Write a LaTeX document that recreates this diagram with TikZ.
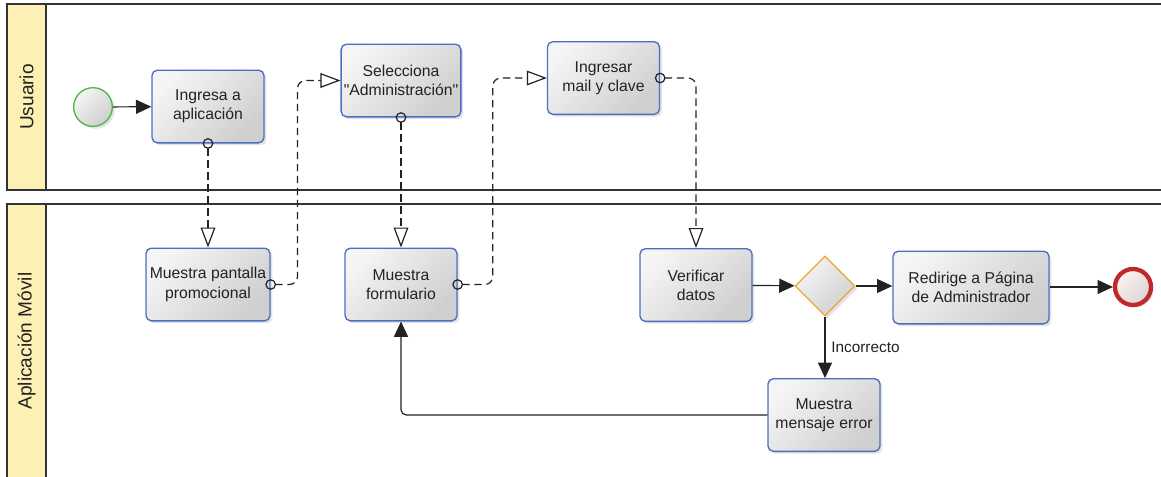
\documentclass[tikz,border=0pt]{standalone}
\usepackage{fontspec}
\setmainfont{Liberation Sans}[Ligatures=TeXOff]
\usetikzlibrary{arrows.meta,shapes.geometric,shadows}

\definecolor{ink}{HTML}{222222}
\definecolor{taskblue}{HTML}{4A6FC0}
\definecolor{laneyellow}{HTML}{FDF0B5}
\definecolor{gwyorange}{HTML}{EFA52E}
\definecolor{startgreen}{HTML}{4DB848}
\definecolor{endred}{HTML}{C0282A}
\definecolor{laneline}{HTML}{333333}

\begin{document}
\begin{tikzpicture}[x=0.75pt,y=-0.75pt,
  shadowed/.style={drop shadow={opacity=0.22, shadow xshift=1.8pt, shadow yshift=-1.8pt}},
  greyfill/.style={top color=white!96!black, bottom color=black!19, shading angle=45},
  task/.style={shadowed, greyfill, draw=taskblue, line width=1pt, rounded corners=4pt,
    minimum width=84pt, minimum height=54.5pt, align=center, inner sep=2pt,
    font=\fontsize{11.8}{14.4}\selectfont, text=ink},
  gateway/.style={shadowed, greyfill, diamond, draw=gwyorange, line width=1pt,
    minimum width=45pt, minimum height=45pt, inner sep=0pt},
  startev/.style={shadowed, greyfill, circle, draw=startgreen, line width=1pt,
    minimum size=29pt, inner sep=0pt},
  endev/.style={shadowed, top color=white!94!red, bottom color=red!12!black!16, shading angle=45,
    circle, draw=endred, line width=3.2pt, minimum size=27pt, inner sep=0pt},
  lanehead/.style={rotate=90, font=\fontsize{14.3}{16}\selectfont, text=ink},
  lane/.style={draw=laneline, line width=1.5pt},
  flow/.style={draw=ink, line width=0.9pt, -{Triangle[length=11.5pt, width=10.5pt]}},
  msg/.style={draw=ink, line width=0.9pt, dash pattern=on 5.5pt off 3.5pt, rounded corners=6pt,
    {Circle[open, length=8pt, width=8pt]}-{Triangle[open, length=15pt, width=11pt, fill=white]},
    shorten <=-4pt},
  flowlabel/.style={font=\fontsize{11.5}{13}\selectfont, text=ink}
]
\useasboundingbox (0,0) rectangle (1161,476);
\clip (0,0) rectangle (1161,476);

% swimlanes
\fill[laneyellow] (7,4) rectangle (46,190);
\fill[laneyellow] (7,204) rectangle (46,490);
\draw[lane] (1175,4) -- (7,4) -- (7,190) -- (1175,190);
\draw[lane] (46,4) -- (46,190);
\draw[lane] (1175,204) -- (7,204) -- (7,490);
\draw[lane] (46,204) -- (46,490);
\node[lanehead] (lu) at (26.5,97) {Usuario};
\node[lanehead] (la) at (26.5,341) {Aplicación Móvil};

% user lane
\node[startev] (st) at (93,107) {};
\node[task] (ing) at (208,106.5) {Ingresa a\\aplicación};
\node[task] (sel) at (401,80.5) {Selecciona\\"Administración"};
\node[task] (mail) at (603.5,78) {Ingresar\\mail y clave};

% app lane
\node[task, minimum width=93pt] (prom) at (208,284.5) {Muestra pantalla\\promocional};
\node[task] (form) at (401,284.5) {Muestra\\formulario};
\node[task] (ver) at (696,285) {Verificar\\datos};
\node[gateway] (gw) at (825,286) {};
\node[task, minimum width=117pt] (redir) at (971,287.5) {Redirige a Página\\de Administrador};
\node[endev] (fin) at (1133,287) {};
\node[task] (err) at (824,415) {Muestra\\mensaje error};

% sequence flows
\draw[flow] (st) -- (ing);
\draw[flow] (ver) -- (gw);
\draw[flow] (gw) -- (redir.west |- gw);
\draw[flow] (redir.east |- fin) -- (fin);
\draw[flow] (gw.south) -- node[flowlabel, right, pos=0.5, xshift=1pt] {Incorrecto} (gw.south |- err.north);
\draw[flow, rounded corners=4pt] (err.west) -| (form.south);

% message flows
\draw[msg] (ing.south) -- (prom.north);
\draw[msg] (prom.east) -| ([xshift=-32.25pt]sel.west) -- (sel.west);
\draw[msg] (sel.south) -- (form.north);
\draw[msg] (form.east) -| ([xshift=-40.5pt]mail.west) -- (mail.west);
\draw[msg] (mail.east) -| (ver.north);
\end{tikzpicture}
\end{document}
